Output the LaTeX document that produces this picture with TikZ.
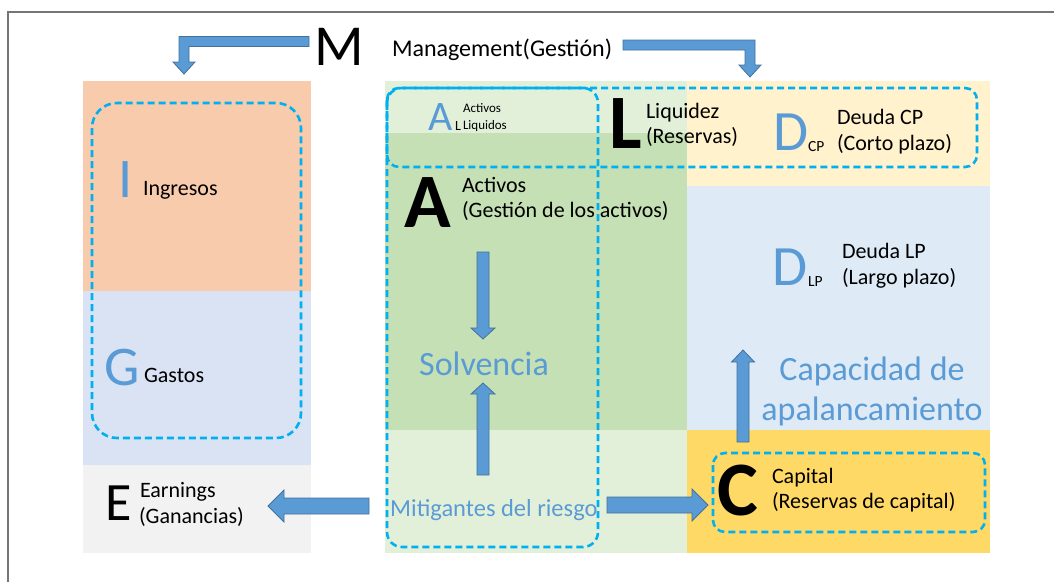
\documentclass[tikz,border=0pt]{standalone}
\usepackage{fontspec}
\setmainfont{Carlito}
\usetikzlibrary{calc}

\definecolor{ingfill}{HTML}{F8CBAD}
\definecolor{gasfill}{HTML}{DAE3F3}
\definecolor{earnfill}{HTML}{F2F2F2}
\definecolor{lgreen}{HTML}{E2F0D9}
\definecolor{mgreen}{HTML}{C5E0B4}
\definecolor{lyellow}{HTML}{FFF2CC}
\definecolor{lblue}{HTML}{DEEBF7}
\definecolor{gold}{HTML}{FFD966}
\definecolor{dashblue}{HTML}{00B0F0}
\definecolor{arrowfill}{HTML}{5B9BD5}
\definecolor{arrowline}{HTML}{41719C}
\definecolor{letterblue}{HTML}{5B9BD5}
\definecolor{framegray}{HTML}{767676}

\tikzset{
  txt/.style={anchor=base west, inner sep=0pt, outer sep=0pt, text=black,
              font=\fontsize{22}{25}\selectfont},
  small/.style={txt, font=\fontsize{13}{15}\selectfont},
  sub/.style={txt, font=\fontsize{15.5}{18}\selectfont},
  bigblue/.style={anchor=base west, inner sep=0pt, text=letterblue,
              font=\fontsize{56}{60}\selectfont},
  bigbold/.style={anchor=base west, inner sep=0pt, text=black,
              font=\fontsize{77}{80}\selectfont\bfseries},
  concept/.style={anchor=base, inner sep=0pt, text=letterblue,
              font=\fontsize{34}{40}\selectfont},
  group/.style={draw=dashblue, line width=2.6pt, dash pattern=on 7pt off 4pt},
  barrow/.style={draw=arrowline, fill=arrowfill, line width=0.8pt, line join=miter},
  % straight block arrow: shaft half width, head half width, head length
  block/.style n args={3}{barrow,
    to path={let \p1=(\tikztostart), \p2=(\tikztotarget),
      \n1={atan2(\y2-\y1,\x2-\x1)}, \n2={veclen(\x2-\x1,\y2-\y1)-#3} in
      ($(\p1)+(\n1+90:#1)$) -- ($(\p1)+(\n1:\n2)+(\n1+90:#1)$)
      -- ($(\p1)+(\n1:\n2)+(\n1+90:#2)$) -- (\p2)
      -- ($(\p1)+(\n1:\n2)+(\n1-90:#2)$) -- ($(\p1)+(\n1:\n2)+(\n1-90:#1)$)
      -- ($(\p1)+(\n1-90:#1)$) -- cycle}}
}

\begin{document}
\begin{tikzpicture}[x=1pt,y=-1pt]
\useasboundingbox (0,0) rectangle (1054,582);

% outer frame
\draw[framegray, line width=1.4pt] (8,582) -- (8,12) -- (1054,12);

% left column: income statement
\fill[ingfill]  (83,81)  rectangle (311,291);
\fill[gasfill]  (83,291) rectangle (311,465);
\fill[earnfill] (83,465) rectangle (311,553);

% centre column: assets
\fill[lgreen] (385,81)  rectangle (687,133);
\fill[mgreen] (385,133) rectangle (687,430);
\fill[lgreen] (385,430) rectangle (687,553);

% right column: liabilities and capital
\fill[lyellow] (687,81)  rectangle (990,186);
\fill[lblue]   (687,186) rectangle (990,430);
\fill[gold]    (687,430) rectangle (990,553);

% dashed groupings
\draw[group, rounded corners=25pt] (92,103) rectangle (301,438);
\draw[group, rounded corners=15pt] (387,88) rectangle (598,547);
\draw[group, rounded corners=12pt] (387,88) rectangle (977,167);
\draw[group, rounded corners=12pt] (713,453) rectangle (985,532);

% Management
\node[anchor=base west, inner sep=0pt, font=\fontsize{58}{60}\selectfont] (M) at (314,65) {M};
\node[txt, font=\fontsize{24}{26}\selectfont] (mgmt) at (392,56) {Management(Gestión)};

% income and expenses
\node[bigblue] (I) at (118,197) {I};
\node[txt] (ingresos) at (143,195) {Ingresos};
\node[bigblue] (G) at (104,385) {G};
\node[txt] (gastos) at (144,382) {Gastos};
\node[anchor=base west, inner sep=0pt, font=\fontsize{54}{58}\selectfont] (E) at (105,520) {E};
\node[txt] (earn1) at (140,497) {Earnings};
\node[txt] (earn2) at (139,523) {(Ganancias)};

% liquid assets
\node[anchor=base west, inner sep=0pt, text=letterblue, font=\fontsize{42}{46}\selectfont] (AL) at (428,130) {A};
\node[sub, font=\fontsize{14}{16}\selectfont] (ALsub) at (455,130) {L};
\node[small] (al1) at (463,112) {Activos};
\node[small] (al2) at (463,129) {Liquidos};

% assets
\node[bigbold] (A) at (404,227) {A};
\node[txt] (act1) at (462,192) {Activos};
\node[txt] (act2) at (462,217) {(Gestión de los activos)};

% liquidity
\node[bigbold] (L) at (609,148) {L};
\node[txt] (liq1) at (646,118) {Liquidez};
\node[txt] (liq2) at (646,143) {(Reservas)};

% short-term debt
\node[bigblue, font=\fontsize{57}{60}\selectfont] (Dcp) at (773,150) {D};
\node[sub] (cp) at (808,151) {CP};
\node[txt] (dcp1) at (837,124) {Deuda CP};
\node[txt] (dcp2) at (837,150) {(Corto plazo)};

% long-term debt
\node[bigblue, font=\fontsize{57}{60}\selectfont] (Dlp) at (772,285) {D};
\node[sub] (lp) at (808,286) {LP};
\node[txt] (dlp1) at (842,258) {Deuda LP};
\node[txt] (dlp2) at (842,284) {(Largo plazo)};

% capital
\node[bigbold] (C) at (717,515) {C};
\node[txt] (cap1) at (772,483) {Capital};
\node[txt] (cap2) at (772,508) {(Reservas de capital)};

% key concepts
\node[concept] (solv) at (484,375) {Solvencia};
\node[concept] (capac1) at (872,380) {Capacidad de};
\node[concept] (capac2) at (872,420) {apalancamiento};
\node[anchor=base west, inner sep=0pt, text=letterblue, font=\fontsize{24.5}{28}\selectfont] (mitig) at (390,516) {Mitigantes del riesgo};

% arrow end points
\coordinate (dnStart) at (483,252);
\coordinate (dnTip)   at (483,339);
\coordinate (upStart) at (483,475);
\coordinate (upTip)   at (483,383);
\coordinate (eStart)  at (369,506);
\coordinate (eTip)    at (268,506);
\coordinate (cStart)  at (607,505);
\coordinate (cTip)    at (708,505);
\coordinate (apStart) at (743,442);
\coordinate (apTip)   at (743,350);

\draw[block={6pt}{12pt}{11pt}] (dnStart) to (dnTip);
\draw[block={6pt}{12pt}{11pt}] (upStart) to (upTip);
\draw[block={6pt}{11.5pt}{12pt}] (apStart) to (apTip);
\draw[block={8pt}{16pt}{16pt}] (eStart) to (eTip);
\draw[block={8pt}{16pt}{16pt}] (cStart) to (cTip);

% bent arrows from Management
\coordinate (mlS) at (309,41.5);
\coordinate (mlK) at (184,41.5);
\coordinate (mlT) at (184,74);
\draw[barrow] ($(mlS)+(0,-5)$) -- ($(mlK)+(-5,-5)$) -- ($(mlT)+(-5,-12)$)
  -- ($(mlT)+(-11,-12)$) -- (mlT) -- ($(mlT)+(11,-12)$) -- ($(mlT)+(5,-12)$)
  -- ($(mlK)+(5,5)$) -- ($(mlS)+(0,5)$) -- cycle;

\coordinate (mrS) at (623,45);
\coordinate (mrK) at (750,45);
\coordinate (mrT) at (750,77);
\draw[barrow] ($(mrS)+(0,-5)$) -- ($(mrK)+(5,-5)$) -- ($(mrT)+(5,-12)$)
  -- ($(mrT)+(11,-12)$) -- (mrT) -- ($(mrT)+(-11,-12)$) -- ($(mrT)+(-5,-12)$)
  -- ($(mrK)+(-5,5)$) -- ($(mrS)+(0,5)$) -- cycle;

\end{tikzpicture}
\end{document}
